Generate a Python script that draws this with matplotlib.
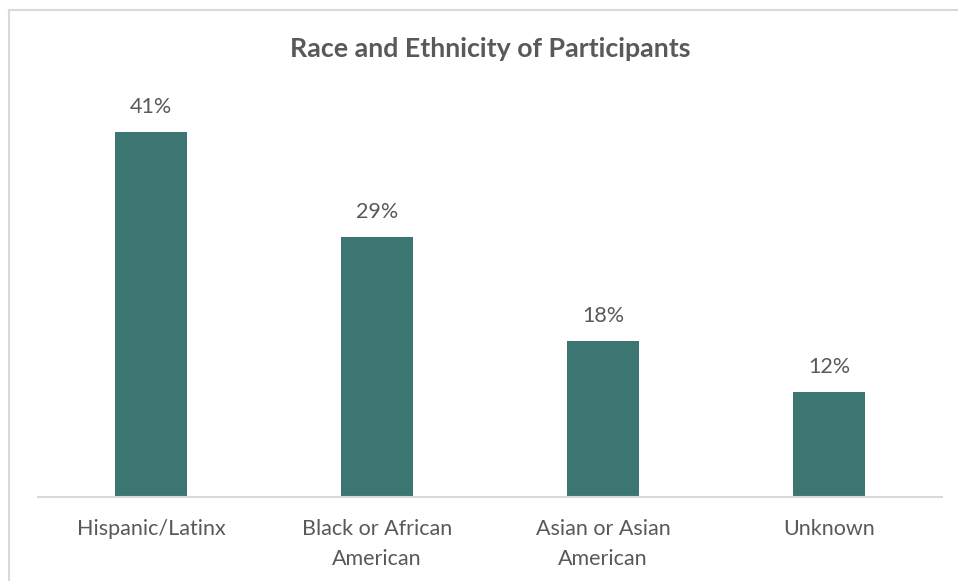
import matplotlib.pyplot as plt
from matplotlib.lines import Line2D

categories = ["Hispanic/Latinx", "Black or African\nAmerican", "Asian or Asian\nAmerican", "Unknown"]
values = [41.2, 29.4, 17.6, 11.8]
value_labels = ["41%", "29%", "18%", "12%"]
title = "Race and Ethnicity of Participants"

plt.rcParams['font.family'] = ['Lato', 'DejaVu Sans']
W, H = 958, 581
fig = plt.figure(figsize=(W/100, H/100), dpi=100)
fig.patch.set_facecolor('white')

# outer frame (top and left visible)
fig.add_artist(Line2D([9/W, 9/W], [0, 1 - 10/H], color='#d9d9d9', lw=1.5, transform=fig.transFigure))
fig.add_artist(Line2D([9/W, 1], [1 - 10/H, 1 - 10/H], color='#d9d9d9', lw=1.5, transform=fig.transFigure))

left, right = 38/W, 942/W
bottom = (H - 497)/H
ymax = 45
ax_h_px = ymax * 8.86
ax = fig.add_axes([left, bottom, right - left, ax_h_px/H])
x = list(range(len(categories)))
bars = ax.bar(x, values, width=0.32, color='#3B7673')
ax.set_xlim(-0.5, len(categories) - 0.5)
ax.set_ylim(0, ymax)
for s in ['top', 'right', 'left']:
    ax.spines[s].set_visible(False)
ax.spines['bottom'].set_color('#d9d9d9')
ax.spines['bottom'].set_linewidth(1.5)
ax.set_yticks([])
ax.set_xticks(x)
ax.set_xticklabels(categories, fontsize=15.5, color='#595959', linespacing=1.6)
ax.tick_params(axis='x', length=0, pad=16)
for xi, v, lab in zip(x, values, value_labels):
    ax.annotate(lab, (xi, v), xytext=(0, 25), textcoords='offset pixels',
                ha='center', va='center', fontsize=15.5, color='#595959')
fig.text((left + right)/2, 1 - 49/H, title, ha='center', va='center',
         fontsize=19.3, fontweight='bold', color='#595959')
fig.savefig('out.png', dpi=100, facecolor='white')
